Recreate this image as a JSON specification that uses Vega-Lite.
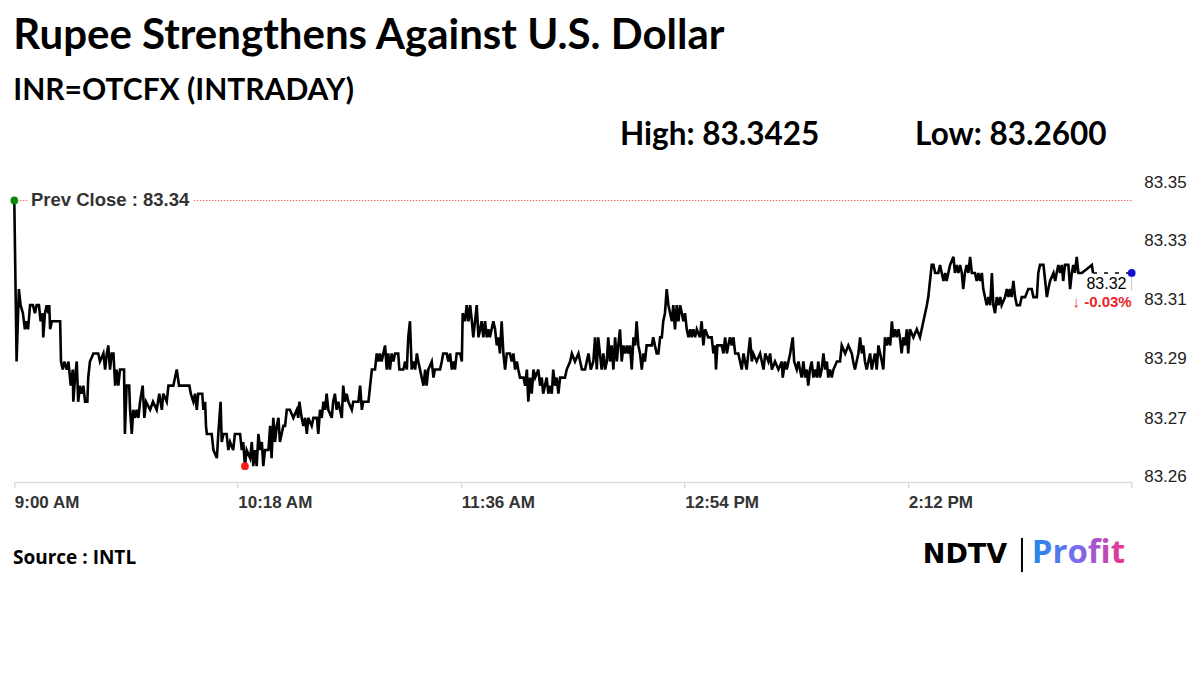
{
  "$schema": "https://vega.github.io/schema/vega-lite/v6.json",
  "autosize": "none",
  "width": 1117.4,
  "height": 312,
  "padding": {"left": 14.3, "top": 170, "right": 68.3, "bottom": 192},
  "background": "white",
  "config": {"view": {"stroke": null}},
  "title": {
    "text": "Rupee Strengthens Against U.S. Dollar",
    "subtitle": "INR=OTCFX (INTRADAY)",
    "anchor": "start",
    "frame": "group",
    "font": "Lato",
    "fontSize": 42,
    "fontWeight": "bold",
    "color": "#000000",
    "subtitleFont": "Lato",
    "subtitleFontSize": 30,
    "subtitleFontWeight": "bold",
    "subtitleColor": "#000000",
    "subtitlePadding": 18,
    "offset": 13,
    "dx": -1
  },
  "datasets": {
    "series": [
{"m":0,"v":83.3425},{"m":0.8,"v":83.2925},{"m":1.6,"v":83.315},{"m":2.2,"v":83.31},{"m":3.0,"v":83.3075},{"m":3.7,"v":83.3025},{"m":4.3,"v":83.305},{"m":4.8,"v":83.3025},{"m":5.5,"v":83.31},{"m":6.5,"v":83.31},{"m":7.2,"v":83.3075},{"m":7.8,"v":83.31},{"m":8.6,"v":83.31},{"m":9.2,"v":83.305},{"m":9.9,"v":83.3075},{"m":10.1,"v":83.30},{"m":10.7,"v":83.3075},{"m":11.3,"v":83.31},{"m":11.9,"v":83.3075},{"m":12.2,"v":83.31},{"m":12.5,"v":83.3025},{"m":13.1,"v":83.305},{"m":16.0,"v":83.305},{"m":16.3,"v":83.2925},{"m":16.9,"v":83.29},{"m":17.5,"v":83.2925},{"m":18.3,"v":83.29},{"m":18.9,"v":83.2925},{"m":19.7,"v":83.285},{"m":20.4,"v":83.29},{"m":20.6,"v":83.28},{"m":21.2,"v":83.2875},{"m":21.8,"v":83.2925},{"m":22.3,"v":83.28},{"m":22.9,"v":83.285},{"m":23.5,"v":83.2825},{"m":24.1,"v":83.285},{"m":24.7,"v":83.28},{"m":25.5,"v":83.28},{"m":25.8,"v":83.2875},{"m":26.4,"v":83.2925},{"m":27.6,"v":83.295},{"m":29.3,"v":83.295},{"m":29.9,"v":83.2925},{"m":31.1,"v":83.295},{"m":31.7,"v":83.29},{"m":32.3,"v":83.295},{"m":32.8,"v":83.2975},{"m":33.4,"v":83.29},{"m":34.0,"v":83.295},{"m":34.6,"v":83.295},{"m":35.2,"v":83.285},{"m":35.7,"v":83.29},{"m":36.3,"v":83.285},{"m":36.9,"v":83.29},{"m":38.3,"v":83.29},{"m":38.6,"v":83.27},{"m":39.2,"v":83.285},{"m":40.1,"v":83.285},{"m":40.4,"v":83.2775},{"m":41.0,"v":83.27},{"m":41.5,"v":83.2775},{"m":42.1,"v":83.275},{"m":42.7,"v":83.2775},{"m":43.3,"v":83.275},{"m":43.9,"v":83.28},{"m":44.8,"v":83.285},{"m":45.4,"v":83.275},{"m":46.0,"v":83.28},{"m":47.4,"v":83.2775},{"m":48.4,"v":83.28},{"m":49.7,"v":83.2775},{"m":50.6,"v":83.2825},{"m":51.5,"v":83.2775},{"m":52.0,"v":83.2825},{"m":53.2,"v":83.28},{"m":53.8,"v":83.285},{"m":55.5,"v":83.285},{"m":56.7,"v":83.29},{"m":57.5,"v":83.285},{"m":61.1,"v":83.285},{"m":61.6,"v":83.2825},{"m":62.5,"v":83.28},{"m":63.1,"v":83.2825},{"m":63.7,"v":83.2775},{"m":64.2,"v":83.2825},{"m":65.6,"v":83.2825},{"m":66.0,"v":83.2775},{"m":66.6,"v":83.28},{"m":66.9,"v":83.2725},{"m":67.2,"v":83.27},{"m":68.9,"v":83.27},{"m":69.5,"v":83.265},{"m":70.7,"v":83.2625},{"m":71.2,"v":83.27},{"m":72.0,"v":83.28},{"m":72.4,"v":83.2675},{"m":73.0,"v":83.27},{"m":74.1,"v":83.27},{"m":74.7,"v":83.265},{"m":75.3,"v":83.2675},{"m":76.4,"v":83.265},{"m":77.0,"v":83.27},{"m":78.8,"v":83.27},{"m":79.4,"v":83.265},{"m":79.9,"v":83.2675},{"m":80.5,"v":83.26},{"m":81.1,"v":83.265},{"m":82.3,"v":83.2625},{"m":82.9,"v":83.2675},{"m":83.4,"v":83.26},{"m":84.0,"v":83.265},{"m":84.6,"v":83.26},{"m":85.2,"v":83.27},{"m":85.8,"v":83.265},{"m":86.4,"v":83.2675},{"m":86.9,"v":83.26},{"m":87.5,"v":83.265},{"m":88.7,"v":83.265},{"m":89.3,"v":83.2725},{"m":89.8,"v":83.2625},{"m":90.4,"v":83.275},{"m":91.0,"v":83.2675},{"m":91.6,"v":83.2725},{"m":92.2,"v":83.275},{"m":92.7,"v":83.2675},{"m":93.3,"v":83.27},{"m":93.9,"v":83.2725},{"m":94.5,"v":83.2725},{"m":95.1,"v":83.2775},{"m":96.2,"v":83.2775},{"m":97.4,"v":83.275},{"m":98.6,"v":83.2775},{"m":99.1,"v":83.275},{"m":99.5,"v":83.28},{"m":100.3,"v":83.275},{"m":100.9,"v":83.2725},{"m":101.5,"v":83.275},{"m":102.1,"v":83.27},{"m":102.6,"v":83.275},{"m":103.8,"v":83.2725},{"m":104.4,"v":83.275},{"m":105.6,"v":83.275},{"m":106.1,"v":83.27},{"m":106.7,"v":83.2775},{"m":107.3,"v":83.275},{"m":107.9,"v":83.28},{"m":108.5,"v":83.2775},{"m":109.0,"v":83.2825},{"m":109.6,"v":83.2775},{"m":110.8,"v":83.275},{"m":111.3,"v":83.28},{"m":111.9,"v":83.2825},{"m":112.5,"v":83.2775},{"m":113.1,"v":83.28},{"m":114.3,"v":83.275},{"m":114.8,"v":83.285},{"m":115.4,"v":83.28},{"m":116.0,"v":83.2825},{"m":116.6,"v":83.28},{"m":117.8,"v":83.2775},{"m":118.3,"v":83.28},{"m":120.1,"v":83.28},{"m":120.7,"v":83.285},{"m":121.3,"v":83.2775},{"m":121.8,"v":83.28},{"m":123.6,"v":83.28},{"m":124.8,"v":83.29},{"m":125.9,"v":83.29},{"m":126.5,"v":83.295},{"m":127.1,"v":83.2925},{"m":127.6,"v":83.295},{"m":128.2,"v":83.2925},{"m":128.8,"v":83.295},{"m":129.4,"v":83.2975},{"m":130.0,"v":83.29},{"m":130.5,"v":83.295},{"m":131.1,"v":83.29},{"m":131.7,"v":83.295},{"m":132.3,"v":83.2925},{"m":132.9,"v":83.295},{"m":134.0,"v":83.295},{"m":134.4,"v":83.29},{"m":135.8,"v":83.29},{"m":136.4,"v":83.2925},{"m":137.0,"v":83.29},{"m":137.5,"v":83.30},{"m":138.1,"v":83.305},{"m":138.7,"v":83.29},{"m":139.3,"v":83.2925},{"m":139.9,"v":83.29},{"m":140.5,"v":83.295},{"m":141.0,"v":83.2925},{"m":141.6,"v":83.29},{"m":142.8,"v":83.285},{"m":143.4,"v":83.29},{"m":143.9,"v":83.285},{"m":144.5,"v":83.29},{"m":145.7,"v":83.2925},{"m":146.3,"v":83.2875},{"m":146.8,"v":83.29},{"m":148.6,"v":83.29},{"m":149.2,"v":83.2925},{"m":149.7,"v":83.295},{"m":150.9,"v":83.295},{"m":151.5,"v":83.2925},{"m":152.1,"v":83.295},{"m":152.7,"v":83.29},{"m":153.2,"v":83.2925},{"m":153.8,"v":83.29},{"m":154.4,"v":83.295},{"m":155.6,"v":83.295},{"m":156.2,"v":83.2925},{"m":156.5,"v":83.3075},{"m":157.3,"v":83.305},{"m":157.9,"v":83.31},{"m":158.5,"v":83.305},{"m":159.1,"v":83.31},{"m":159.7,"v":83.305},{"m":160.2,"v":83.30},{"m":160.8,"v":83.305},{"m":161.4,"v":83.31},{"m":162.0,"v":83.30},{"m":162.6,"v":83.3025},{"m":163.1,"v":83.305},{"m":163.7,"v":83.30},{"m":164.3,"v":83.305},{"m":164.9,"v":83.30},{"m":165.5,"v":83.3025},{"m":166.0,"v":83.30},{"m":166.6,"v":83.3025},{"m":167.2,"v":83.305},{"m":167.8,"v":83.3025},{"m":168.4,"v":83.2975},{"m":168.9,"v":83.30},{"m":169.5,"v":83.295},{"m":170.1,"v":83.305},{"m":170.7,"v":83.295},{"m":171.3,"v":83.29},{"m":171.9,"v":83.295},{"m":173.0,"v":83.295},{"m":173.6,"v":83.2925},{"m":174.2,"v":83.295},{"m":174.8,"v":83.29},{"m":175.4,"v":83.2925},{"m":175.9,"v":83.29},{"m":176.5,"v":83.2875},{"m":177.7,"v":83.2875},{"m":178.3,"v":83.285},{"m":178.9,"v":83.29},{"m":179.4,"v":83.28},{"m":180.0,"v":83.2875},{"m":180.6,"v":83.2825},{"m":181.2,"v":83.29},{"m":181.8,"v":83.2875},{"m":182.9,"v":83.29},{"m":183.5,"v":83.285},{"m":184.1,"v":83.2875},{"m":184.6,"v":83.2825},{"m":185.2,"v":83.285},{"m":185.8,"v":83.2875},{"m":186.4,"v":83.2825},{"m":187.0,"v":83.285},{"m":187.6,"v":83.2825},{"m":188.1,"v":83.29},{"m":188.7,"v":83.285},{"m":189.3,"v":83.2875},{"m":189.9,"v":83.2825},{"m":190.5,"v":83.2875},{"m":192.2,"v":83.2875},{"m":192.8,"v":83.29},{"m":194.0,"v":83.2925},{"m":194.6,"v":83.295},{"m":195.7,"v":83.2925},{"m":196.9,"v":83.295},{"m":198.1,"v":83.29},{"m":199.2,"v":83.29},{"m":200.4,"v":83.295},{"m":201.2,"v":83.29},{"m":202.1,"v":83.2925},{"m":202.7,"v":83.30},{"m":203.3,"v":83.29},{"m":203.8,"v":83.30},{"m":205.0,"v":83.29},{"m":205.6,"v":83.295},{"m":206.2,"v":83.29},{"m":206.8,"v":83.2925},{"m":207.3,"v":83.30},{"m":207.9,"v":83.2925},{"m":208.5,"v":83.2975},{"m":209.1,"v":83.29},{"m":209.7,"v":83.30},{"m":210.3,"v":83.2925},{"m":210.8,"v":83.2975},{"m":211.4,"v":83.3025},{"m":212.0,"v":83.2925},{"m":212.6,"v":83.2975},{"m":213.2,"v":83.295},{"m":213.8,"v":83.2975},{"m":214.3,"v":83.295},{"m":214.9,"v":83.2975},{"m":215.5,"v":83.29},{"m":216.1,"v":83.30},{"m":216.7,"v":83.2975},{"m":217.2,"v":83.305},{"m":217.8,"v":83.2975},{"m":218.4,"v":83.295},{"m":219.0,"v":83.29},{"m":219.6,"v":83.295},{"m":220.1,"v":83.2925},{"m":220.7,"v":83.2975},{"m":222.5,"v":83.2975},{"m":223.0,"v":83.30},{"m":223.6,"v":83.2975},{"m":224.2,"v":83.295},{"m":224.8,"v":83.295},{"m":225.4,"v":83.30},{"m":226.0,"v":83.30},{"m":226.5,"v":83.305},{"m":227.1,"v":83.3075},{"m":227.7,"v":83.315},{"m":228.3,"v":83.31},{"m":228.9,"v":83.3075},{"m":229.5,"v":83.305},{"m":230.0,"v":83.31},{"m":230.6,"v":83.3025},{"m":231.2,"v":83.31},{"m":231.8,"v":83.305},{"m":232.4,"v":83.31},{"m":233.0,"v":83.3075},{"m":233.5,"v":83.305},{"m":234.1,"v":83.3075},{"m":234.7,"v":83.3025},{"m":235.3,"v":83.30},{"m":235.9,"v":83.3025},{"m":236.4,"v":83.30},{"m":237.0,"v":83.3025},{"m":237.6,"v":83.30},{"m":238.2,"v":83.3025},{"m":239.3,"v":83.30},{"m":239.9,"v":83.305},{"m":240.5,"v":83.2975},{"m":241.1,"v":83.3025},{"m":242.2,"v":83.30},{"m":243.4,"v":83.30},{"m":244.0,"v":83.295},{"m":244.6,"v":83.2975},{"m":244.9,"v":83.29},{"m":245.4,"v":83.2975},{"m":246.9,"v":83.2975},{"m":247.5,"v":83.295},{"m":248.1,"v":83.30},{"m":248.7,"v":83.295},{"m":249.2,"v":83.2975},{"m":249.8,"v":83.30},{"m":250.4,"v":83.2975},{"m":251.0,"v":83.30},{"m":251.6,"v":83.295},{"m":252.7,"v":83.295},{"m":253.3,"v":83.2925},{"m":253.9,"v":83.29},{"m":254.5,"v":83.295},{"m":255.6,"v":83.29},{"m":256.2,"v":83.295},{"m":256.8,"v":83.30},{"m":257.4,"v":83.2925},{"m":257.9,"v":83.295},{"m":259.1,"v":83.2925},{"m":260.3,"v":83.295},{"m":261.5,"v":83.29},{"m":262.1,"v":83.295},{"m":263.2,"v":83.2925},{"m":263.8,"v":83.295},{"m":264.4,"v":83.29},{"m":265.5,"v":83.2925},{"m":266.7,"v":83.29},{"m":267.9,"v":83.2925},{"m":268.2,"v":83.2875},{"m":269.0,"v":83.2925},{"m":269.6,"v":83.29},{"m":270.2,"v":83.2925},{"m":270.8,"v":83.295},{"m":271.7,"v":83.30},{"m":272.2,"v":83.2925},{"m":273.1,"v":83.29},{"m":273.7,"v":83.2925},{"m":274.2,"v":83.29},{"m":274.8,"v":83.2875},{"m":275.4,"v":83.2925},{"m":276.0,"v":83.2875},{"m":276.6,"v":83.29},{"m":277.1,"v":83.285},{"m":277.7,"v":83.29},{"m":278.3,"v":83.2925},{"m":278.9,"v":83.2875},{"m":279.5,"v":83.29},{"m":280.1,"v":83.2875},{"m":280.6,"v":83.2925},{"m":281.2,"v":83.2875},{"m":281.8,"v":83.29},{"m":282.4,"v":83.295},{"m":283.0,"v":83.29},{"m":283.6,"v":83.2925},{"m":284.1,"v":83.2875},{"m":284.7,"v":83.29},{"m":285.3,"v":83.2875},{"m":285.9,"v":83.29},{"m":287.1,"v":83.2925},{"m":288.2,"v":83.2925},{"m":288.8,"v":83.2975},{"m":290.0,"v":83.295},{"m":291.1,"v":83.2975},{"m":292.3,"v":83.295},{"m":292.8,"v":83.2925},{"m":293.4,"v":83.29},{"m":294.0,"v":83.2925},{"m":294.6,"v":83.295},{"m":295.2,"v":83.30},{"m":295.8,"v":83.295},{"m":296.3,"v":83.2975},{"m":296.9,"v":83.2925},{"m":297.5,"v":83.29},{"m":298.1,"v":83.2925},{"m":298.7,"v":83.295},{"m":299.3,"v":83.29},{"m":299.8,"v":83.2925},{"m":300.4,"v":83.295},{"m":301.0,"v":83.29},{"m":301.6,"v":83.2975},{"m":302.2,"v":83.295},{"m":302.8,"v":83.2925},{"m":303.3,"v":83.29},{"m":303.9,"v":83.30},{"m":304.5,"v":83.2975},{"m":305.1,"v":83.30},{"m":305.7,"v":83.2975},{"m":306.3,"v":83.305},{"m":306.8,"v":83.30},{"m":307.4,"v":83.3025},{"m":308.0,"v":83.30},{"m":308.6,"v":83.3025},{"m":309.1,"v":83.30},{"m":309.7,"v":83.295},{"m":310.3,"v":83.30},{"m":310.9,"v":83.2975},{"m":311.5,"v":83.3025},{"m":312.0,"v":83.295},{"m":312.6,"v":83.3025},{"m":313.8,"v":83.30},{"m":315.0,"v":83.3025},{"m":316.1,"v":83.30},{"m":316.7,"v":83.3025},{"m":317.3,"v":83.305},{"m":317.9,"v":83.3075},{"m":318.5,"v":83.31},{"m":319.0,"v":83.3125},{"m":319.6,"v":83.3175},{"m":320.2,"v":83.3225},{"m":320.8,"v":83.3225},{"m":321.4,"v":83.32},{"m":322.5,"v":83.32},{"m":323.1,"v":83.3225},{"m":323.7,"v":83.32},{"m":324.3,"v":83.3175},{"m":324.9,"v":83.32},{"m":325.4,"v":83.3175},{"m":326.0,"v":83.32},{"m":326.6,"v":83.3225},{"m":327.8,"v":83.325},{"m":328.3,"v":83.32},{"m":328.9,"v":83.3225},{"m":329.5,"v":83.32},{"m":330.1,"v":83.3225},{"m":330.7,"v":83.32},{"m":331.2,"v":83.315},{"m":331.8,"v":83.32},{"m":332.4,"v":83.3225},{"m":333.0,"v":83.32},{"m":333.6,"v":83.325},{"m":334.2,"v":83.32},{"m":335.3,"v":83.32},{"m":335.9,"v":83.3175},{"m":336.5,"v":83.32},{"m":337.1,"v":83.3175},{"m":337.7,"v":83.32},{"m":338.2,"v":83.315},{"m":338.8,"v":83.3125},{"m":339.4,"v":83.31},{"m":340.0,"v":83.3125},{"m":340.6,"v":83.31},{"m":341.2,"v":83.32},{"m":341.7,"v":83.31},{"m":342.3,"v":83.3075},{"m":342.9,"v":83.3125},{"m":343.5,"v":83.31},{"m":344.1,"v":83.3125},{"m":344.6,"v":83.31},{"m":345.8,"v":83.3125},{"m":346.4,"v":83.315},{"m":347.0,"v":83.3125},{"m":347.5,"v":83.315},{"m":348.1,"v":83.3125},{"m":348.7,"v":83.3175},{"m":349.3,"v":83.3125},{"m":349.9,"v":83.31},{"m":351.0,"v":83.31},{"m":351.6,"v":83.3125},{"m":352.8,"v":83.3125},{"m":353.9,"v":83.315},{"m":355.1,"v":83.315},{"m":355.7,"v":83.3125},{"m":356.9,"v":83.3125},{"m":357.4,"v":83.32},{"m":358.0,"v":83.3225},{"m":359.2,"v":83.3225},{"m":359.8,"v":83.3175},{"m":360.4,"v":83.3125},{"m":360.9,"v":83.315},{"m":361.5,"v":83.3175},{"m":362.7,"v":83.32},{"m":363.3,"v":83.3175},{"m":363.8,"v":83.32},{"m":364.4,"v":83.3225},{"m":365.0,"v":83.32},{"m":365.6,"v":83.3225},{"m":366.1,"v":83.3175},{"m":366.7,"v":83.3225},{"m":367.9,"v":83.3225},{"m":368.5,"v":83.315},{"m":369.1,"v":83.32},{"m":369.6,"v":83.3225},{"m":370.2,"v":83.32},{"m":370.8,"v":83.325},{"m":371.4,"v":83.32},{"m":372.6,"v":83.32},{"m":376.1,"v":83.3225},{"m":376.5,"v":83.32}
    ],
    "markers": [
      {"m": 0, "v": 83.3425, "kind": "High"},
      {"m": 80.5, "v": 83.26, "kind": "Low"},
      {"m": 390, "v": 83.32, "kind": "Last"}
    ]
  },
  "layer": [
    {
      "data": {"values": [{}]},
      "mark": {"type": "rule", "color": "#e8262b", "strokeWidth": 1, "strokeDash": [1, 2]},
      "encoding": {
        "x": {"datum": 0, "type": "quantitative", "scale": {"domain": [0, 390], "nice": false, "zero": false},
          "axis": {
            "values": [0, 78, 156, 234, 312, 390],
            "labelExpr": "datum.value >= 390 ? '' : timeFormat(datetime(2024, 0, 1, 9, datum.value), '%-I:%M %p')",
            "title": null, "grid": false,
            "domainColor": "#dddddd", "domainWidth": 1.5,
            "tickColor": "#cccccc", "tickSize": 6, "tickWidth": 1,
            "labelFont": "Liberation Sans", "labelFontSize": 17, "labelFontWeight": "bold", "labelColor": "#333333",
            "labelAlign": "left", "labelDx": -3, "labelPadding": 6, "labelFlush": false, "labelOverlap": false
          }},
        "x2": {"datum": 390},
        "y": {"datum": 83.3425, "type": "quantitative", "scale": {"domain": [83.25508, 83.35197], "nice": false, "zero": false},
          "axis": {
            "orient": "right",
            "values": [83.348, 83.33, 83.3116, 83.2935, 83.2749, 83.2569],
            "labelExpr": "format(datum.value, '.2f')",
            "title": null, "grid": false, "domain": false, "ticks": false,
            "labelFont": "Liberation Sans", "labelFontSize": 17, "labelColor": "#222222",
            "labelPadding": 12
          }}
      }
    },
    {
      "data": {"values": [{}]},
      "mark": {"type": "rect", "fill": "white"},
      "encoding": {
        "x": {"datum": 4.6, "type": "quantitative"},
        "x2": {"datum": 62.6},
        "y": {"datum": 83.3449, "type": "quantitative"},
        "y2": {"datum": 83.3401}
      }
    },
    {
      "data": {"values": [{}]},
      "mark": {"type": "text", "text": "Prev Close : 83.34", "align": "left", "baseline": "middle", "font": "Liberation Sans", "fontSize": 18.5, "fontWeight": "bold", "color": "#333333"},
      "encoding": {
        "x": {"datum": 5.8, "type": "quantitative"},
        "y": {"datum": 83.3425, "type": "quantitative"}
      }
    },
    {
      "data": {"name": "series"},
      "mark": {"type": "line", "color": "#000000", "strokeWidth": 2.6, "interpolate": "linear"},
      "encoding": {
        "x": {"field": "m", "type": "quantitative"},
        "y": {"field": "v", "type": "quantitative"}
      }
    },
    {
      "data": {"values": [{}]},
      "mark": {"type": "rule", "color": "#000000", "strokeWidth": 1.5, "strokeDash": [4, 7]},
      "encoding": {
        "x": {"datum": 376.5, "type": "quantitative"},
        "x2": {"datum": 390},
        "y": {"datum": 83.32, "type": "quantitative"}
      }
    },
    {
      "data": {"values": [{}]},
      "mark": {"type": "rect", "fill": "white"},
      "encoding": {
        "x": {"datum": 374.5, "type": "quantitative"},
        "x2": {"datum": 390},
        "y": {"datum": 83.3197, "type": "quantitative"},
        "y2": {"datum": 83.3144}
      }
    },
    {
      "data": {"values": [{}]},
      "mark": {"type": "rule", "color": "#c8c8c8", "strokeWidth": 1},
      "encoding": {
        "x": {"datum": 390, "type": "quantitative"},
        "y": {"datum": 83.3197, "type": "quantitative"},
        "y2": {"datum": 83.3144}
      }
    },
    {
      "data": {"values": [{}]},
      "mark": {"type": "text", "text": "83.32", "align": "center", "baseline": "middle", "font": "Liberation Sans", "fontSize": 16, "color": "#000000"},
      "encoding": {
        "x": {"datum": 381.2, "type": "quantitative"},
        "y": {"datum": 83.3166, "type": "quantitative"}
      }
    },
    {
      "data": {"values": [{}]},
      "mark": {"type": "text", "text": "↓ -0.03%", "align": "right", "baseline": "middle", "font": "Liberation Sans", "fontSize": 15, "fontWeight": "bold", "color": "#e8262b"},
      "encoding": {
        "x": {"datum": 390, "type": "quantitative"},
        "y": {"datum": 83.3110, "type": "quantitative"}
      }
    },
    {
      "data": {"name": "markers"},
      "mark": {"type": "point", "filled": true, "opacity": 1, "size": 60},
      "encoding": {
        "x": {"field": "m", "type": "quantitative"},
        "y": {"field": "v", "type": "quantitative"},
        "color": {"field": "kind", "type": "nominal", "scale": {"domain": ["High", "Low", "Last"], "range": ["#0a8a0a", "#ff1a1a", "#1010d0"]}, "legend": null}
      }
    },
    {
      "data": {"values": [{}]},
      "mark": {"type": "text", "text": "High: 83.3425", "align": "left", "baseline": "middle", "font": "Lato", "fontSize": 31.5, "fontWeight": "bold", "color": "#000000"},
      "encoding": {
        "x": {"datum": 211.4, "type": "quantitative"},
        "y": {"datum": 83.3625, "type": "quantitative"}
      }
    },
    {
      "data": {"values": [{}]},
      "mark": {"type": "text", "text": "Low: 83.2600", "align": "left", "baseline": "middle", "font": "Lato", "fontSize": 31.5, "fontWeight": "bold", "color": "#000000"},
      "encoding": {
        "x": {"datum": 314.4, "type": "quantitative"},
        "y": {"datum": 83.3625, "type": "quantitative"}
      }
    },
    {
      "data": {"values": [{}]},
      "mark": {"type": "text", "text": "Source : INTL", "align": "left", "baseline": "middle", "font": "Open Sans", "fontSize": 19, "fontWeight": "bold", "color": "#000000"},
      "encoding": {
        "x": {"datum": -0.45, "type": "quantitative"},
        "y": {"datum": 83.2315, "type": "quantitative"}
      }
    },
    {
      "data": {"values": [{}]},
      "mark": {"type": "text", "text": "NDTV", "align": "left", "baseline": "middle", "font": "DejaVu Sans", "fontSize": 27, "fontWeight": "bold", "color": "#000000"},
      "encoding": {
        "x": {"datum": 317.1, "type": "quantitative"},
        "y": {"datum": 83.2324, "type": "quantitative"}
      }
    },
    {
      "data": {"values": [{}]},
      "mark": {"type": "rule", "color": "#000000", "strokeWidth": 2},
      "encoding": {
        "x": {"datum": 351.7, "type": "quantitative"},
        "y": {"datum": 83.2377, "type": "quantitative"},
        "y2": {"datum": 83.2271}
      }
    },
    {
      "data": {"values": [{}]},
      "mark": {"type": "text", "text": "Profit", "align": "left", "baseline": "middle", "font": "Open Sans", "fontSize": 33, "fontWeight": "bold",
        "fill": {"gradient": "linear", "x1": 0, "y1": 0, "x2": 1, "y2": 0, "stops": [{"offset": 0, "color": "#1e8be6"}, {"offset": 0.5, "color": "#7a6cf0"}, {"offset": 1, "color": "#f0328c"}]}},
      "encoding": {
        "x": {"datum": 355.1, "type": "quantitative"},
        "y": {"datum": 83.2330, "type": "quantitative"}
      }
    }
  ]
}
